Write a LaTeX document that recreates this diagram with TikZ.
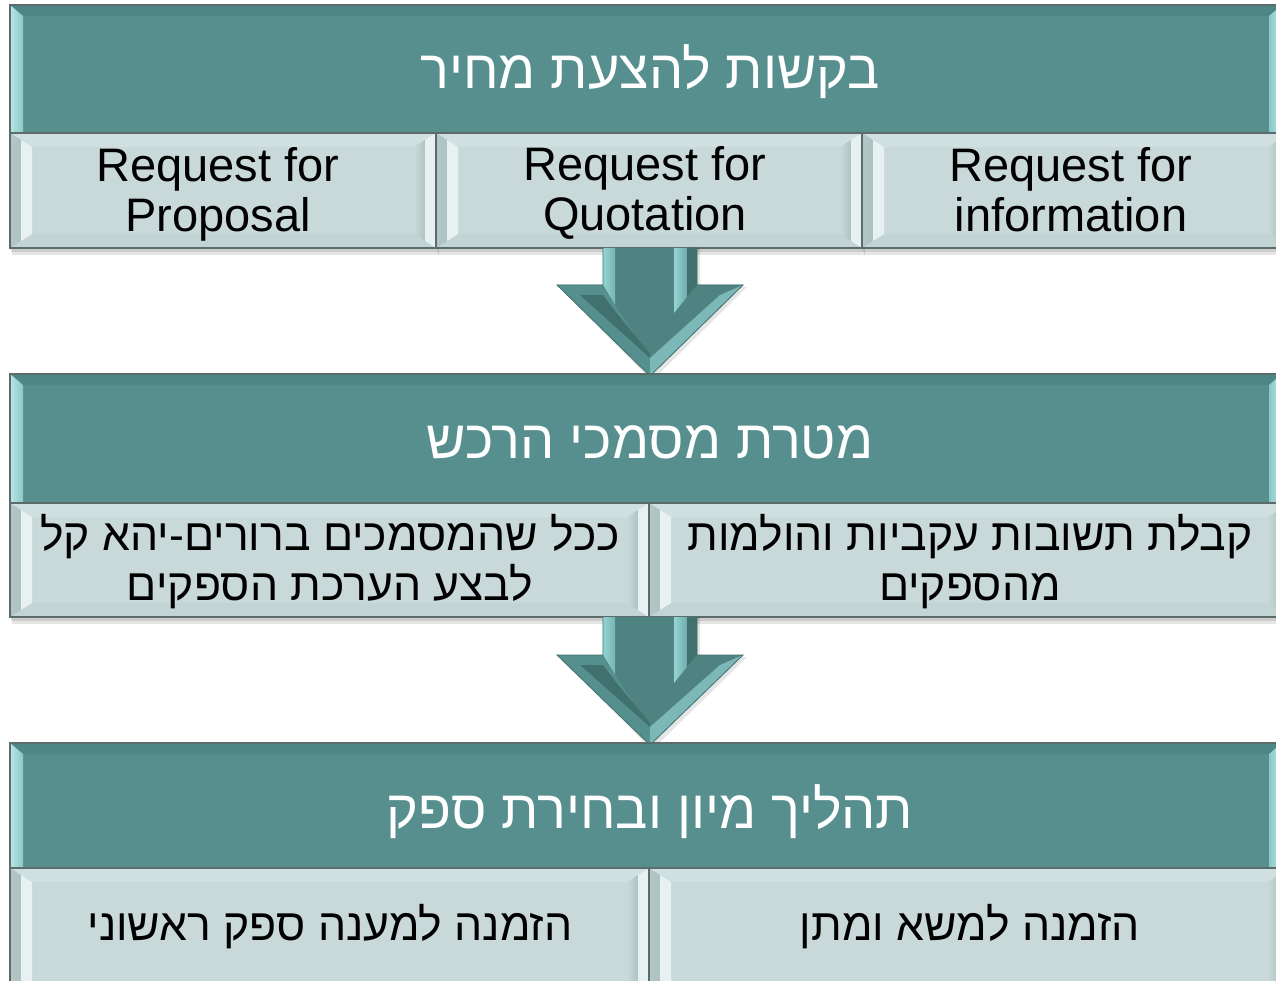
\documentclass[tikz,border=0pt]{standalone}
\usepackage{fontspec}
\setmainfont{Liberation Sans}
\newfontfamily\hebfont[Script=Hebrew]{Liberation Sans}
\TeXXeTstate=1

% teal header colours
\definecolor{hdface}{HTML}{578F8E}
\definecolor{hdtop}{HTML}{4E8685}
\definecolor{hdlight}{HTML}{A3E0DF}
% pale sub-box colours
\definecolor{sbface}{HTML}{C9D9D9}
\definecolor{sbtop}{HTML}{D0DFDF}
\definecolor{sbbot}{HTML}{C3D4D4}
\definecolor{sbshade}{HTML}{AFC2C2}
\definecolor{sblight}{HTML}{E8F1F1}
% arrow colours
\definecolor{arface}{HTML}{4E8382}
\definecolor{arlight}{HTML}{93D5D4}
\definecolor{ardark}{HTML}{41716F}
\definecolor{armid}{HTML}{5A9998}
\definecolor{edgegray}{HTML}{5C6B6B}

\tikzset{
  x=1pt, y=-1pt,
  edge/.style={draw=edgegray, line width=1.2pt},
  shadowfill/.style={fill=black, opacity=0.10},
  hdtext/.style={text=white, font=\hebfont\fontsize{54}{58}\selectfont, inner sep=0pt},
  sbtext/.style={text=black, font=\fontsize{47}{50}\selectfont, align=center, inner sep=0pt},
  sbheb/.style={text=black, font=\hebfont\fontsize{44.5}{50}\selectfont, align=center, inner sep=0pt},
}

% teal header band: x1,y1,x2,y2
\newcommand\headbox[4]{%
  \fill[shadowfill] ({#1+2},{#2+3}) rectangle ({#3+3},{#4+6});
  \fill[hdface] (#1,#2) rectangle (#3,#4);
  \fill[hdtop] (#1,#2) -- (#3,#2) -- ({#3-13},{#2+11}) -- ({#1+13},{#2+11}) -- cycle;
  \shade[left color=hdlight!80!white, right color=hdlight!70!hdface]
    (#1,#2) -- ({#1+13},{#2+11}) -- ({#1+13},#4) -- (#1,#4) -- cycle;
  \shade[left color=hdlight!70!hdface, right color=hdlight!80!white]
    (#3,#2) -- ({#3-13},{#2+11}) -- ({#3-13},#4) -- (#3,#4) -- cycle;
  \draw[edge] (#1,#2) rectangle (#3,#4);
}

% pale bevelled box: x1,y1,x2,y2
\newcommand\subbox[4]{%
  \fill[shadowfill] ({#1+2},{#2+3}) rectangle ({#3+3},{#4+7});
  \fill[shadowfill] ({#1+1},{#2+2}) rectangle ({#3+2},{#4+4});
  \fill[sbface] (#1,#2) rectangle (#3,#4);
  \fill[sbtop] (#1,#2) -- (#3,#2) -- ({#3-22},{#2+14}) -- ({#1+22},{#2+14}) -- cycle;
  \fill[sbbot] (#1,#4) -- (#3,#4) -- ({#3-22},{#4-14}) -- ({#1+22},{#4-14}) -- cycle;
  % left bevel: shaded outer strip, light inner strip
  \shade[left color=sbshade!80!sbface, right color=sbshade]
    (#1,#2) -- ({#1+11},{#2+7}) -- ({#1+11},{#4-7}) -- (#1,#4) -- cycle;
  \fill[sblight] ({#1+11},{#2+7}) -- ({#1+22},{#2+14}) -- ({#1+22},{#4-14}) -- ({#1+11},{#4-7}) -- cycle;
  % right bevel: shaded inner strip, light outer strip
  \shade[left color=sbface, right color=sbshade]
    ({#3-22},{#2+14}) -- ({#3-11},{#2+7}) -- ({#3-11},{#4-7}) -- ({#3-22},{#4-14}) -- cycle;
  \fill[sblight] (#3,#2) -- ({#3-11},{#2+7}) -- ({#3-11},{#4-7}) -- (#3,#4) -- cycle;
  \draw[edge] (#1,#2) rectangle (#3,#4);
}

% bevelled down arrow: shaft top, head top, tip
\newcommand\downarrowshape[3]{%
  \fill[shadowfill] (605,{#1}) -- (700,{#1}) -- (700,{#2+2}) -- (747,{#2+2}) -- (652,{#3+5}) -- (559,{#2+2}) -- (605,{#2+2}) -- cycle;
  \fill[arface] (603,#1) -- (697,#1) -- (697,#2) -- (743,#2) -- (650,#3) -- (557,#2) -- (603,#2) -- cycle;
  % shaft highlights
  \shade[left color=arlight, right color=arlight!60!arface] (603,#1) -- (615,#1) -- (615,{#2+20}) -- (603,#2) -- cycle;
  \shade[left color=arlight, right color=arlight!50!arface] (674,#1) -- (687,#1) -- (687,{#2+12}) -- (674,{#2+28}) -- cycle;
  \fill[ardark] (687,#1) -- (697,#1) -- (697,#2) -- (687,{#2+12}) -- cycle;
  % head facets
  \fill[armid!60!arface] (557,#2) -- (603,#2) -- (615,{#2+20}) -- (650,{#3-18}) -- (650,#3) -- cycle;
  \fill[ardark] (580,{#2+10}) -- (603,{#2+10}) -- (615,{#2+26}) -- (650,{#3-22}) -- (650,{#3-18}) -- cycle;
  \fill[arface] (743,#2) -- (697,#2) -- (687,{#2+12}) -- (650,{#3-18}) -- (650,#3) -- cycle;
  \fill[arlight!65!arface] (743,#2) -- (720,{#2+10}) -- (650,{#3-18}) -- (650,#3) -- cycle;
  \draw[draw=ardark, line width=0.8pt] (603,#1) -- (603,#2) -- (557,#2) -- (650,#3) -- (743,#2) -- (697,#2) -- (697,#1);
}

\begin{document}
\begin{tikzpicture}
\useasboundingbox (0,0) rectangle (1276,981);
\clip (0,0) rectangle (1276,981);
\fill[white] (0,0) rectangle (1276,981);

% ---- block 1: requests for price ----
\headbox{10}{5}{1282}{240}
\subbox{10}{133}{436}{248}
\subbox{436}{133}{862}{248}
\subbox{862}{133}{1290}{248}
\node[hdtext] (h1) at (650,72) {\beginR בקשות להצעת מחיר\endR};
\node[sbtext] (rfp) at (218,194) {Request for\\Proposal};
\node[sbtext] (rfq) at (645,193) {Request for\\Quotation};
\node[sbtext] (rfi) at (1071,190) {Request for\\information};

\downarrowshape{248}{285}{376}

% ---- block 2: purpose of the procurement documents ----
\headbox{10}{374}{1282}{610}
\subbox{10}{503}{649}{617}
\subbox{649}{503}{1290}{617}
\node[hdtext] (h2) at (650,442) {\beginR מטרת מסמכי הרכש\endR};
\node[sbheb] (clear) at (330,562) {\beginR ככל שהמסמכים ברורים-יהא קל\endR\\\beginR לבצע הערכת הספקים\endR};
\node[sbheb] (answers) at (970,562) {\beginR קבלת תשובות עקביות והולמות\endR\\\beginR מהספקים\endR};

\downarrowshape{617}{655}{745}

% ---- block 3: screening and supplier selection ----
\headbox{10}{743}{1282}{980}
\subbox{10}{868}{649}{1000}
\subbox{649}{868}{1290}{1000}
\node[hdtext] (h3) at (650,812) {\beginR תהליך מיון ובחירת ספק\endR};
\node[sbheb] (initial) at (330,927) {\beginR הזמנה למענה ספק ראשוני\endR};
\node[sbheb] (negot) at (970,927) {\beginR הזמנה למשא ומתן\endR};
\end{tikzpicture}
\end{document}
